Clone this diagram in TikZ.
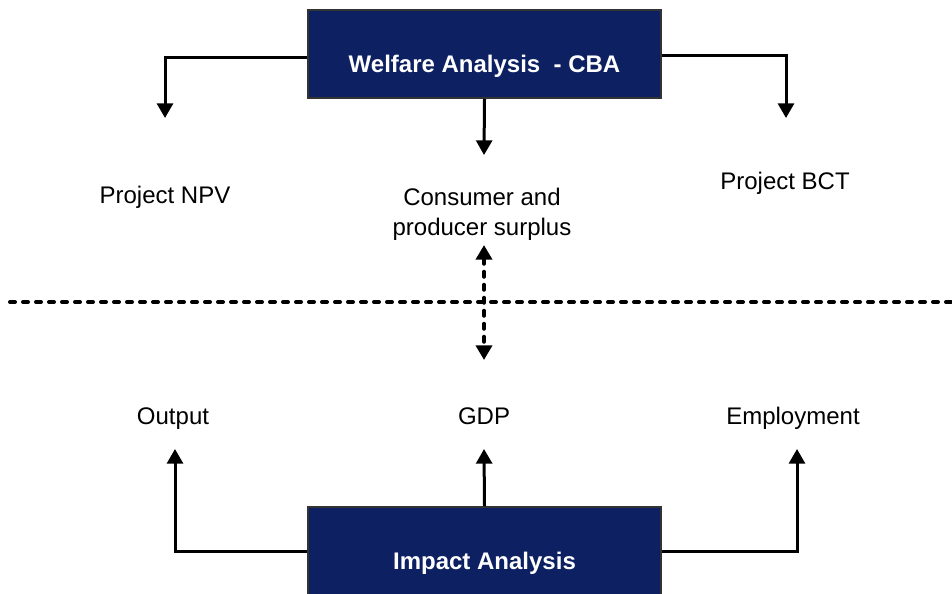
\documentclass[tikz,border=0pt]{standalone}
\usepackage{fontspec}
\setmainfont{Liberation Sans}
\usetikzlibrary{arrows.meta,positioning}
\definecolor{boxblue}{RGB}{13,32,98}

\tikzset{
  sharp/.tip={Triangle[width=12pt,length=11pt]},
  anabox/.style={rectangle,draw=black!80,line width=1.5pt,fill=boxblue,minimum width=264.75pt,inner sep=0pt},
  boxtext/.style={text=white,font=\fontsize{18}{22.5}\selectfont\bfseries,inner sep=0pt},
  plain/.style={inner sep=0pt,align=center},
  link/.style={line width=2.25pt,-sharp},
  sep/.style={line width=3pt,dash pattern=on 3.75pt off 6pt,line cap=round}
}

\begin{document}
\begin{tikzpicture}[x=0.75pt,y=-0.75pt,font=\fontsize{18}{22.5}\selectfont]

\useasboundingbox (0,0) rectangle (952,593);
\clip (0,0) rectangle (952,593);

% analysis boxes
\node[anabox,minimum height=66pt] (welfare) at (484.5,54) {};
\node[boxtext] (welfaretext) at (484.5,66.5) {Welfare Analysis~~- CBA};
\node[anabox,minimum height=82.5pt] (impact) at (484.5,562) {};
\node[boxtext] (impacttext) at (484.5,563) {Impact Analysis};

% welfare measures
\node[plain,anchor=base] (npv) at (165,203) {Project NPV};
\node[plain] (surplus) at (482,214) {Consumer and\\producer surplus};
\node[plain,anchor=base] (bct) at (785,189) {Project BCT};

% impact measures
\node[plain,anchor=base] (output) at (173,424) {Output};
\node[plain,anchor=base] (gdp) at (484,424) {GDP};
\node[plain,anchor=base] (employment) at (793,424) {Employment};

% arrow ends
\coordinate (npvtip) at (165,118);
\coordinate (surtip) at (484,155);
\coordinate (bcttip) at (786,118);
\coordinate (outtip) at (175,449);
\coordinate (gdptip) at (484,449);
\coordinate (emptip) at (797,449);
\coordinate (septop) at (484,245);
\coordinate (sepbot) at (484,360);
\coordinate (sepleft) at (10,302);
\coordinate (sepright) at (955,302);

% welfare side
\draw[link] ([yshift=-2.25pt]welfare.west) -| (npvtip);
\draw[link] (welfare.south) -- (surtip);
\draw[link] ([yshift=-1pt]welfare.east) -| (bcttip);

% divider
\draw[sep] (sepleft) -- (sepright);
\draw[sep,sharp-sharp] (septop) -- (sepbot);

% impact side
\draw[link] ([yshift=8.25pt]impact.west) -| (outtip);
\draw[link] (impact.north) -- (gdptip);
\draw[link] ([yshift=8.25pt]impact.east) -| (emptip);

\end{tikzpicture}
\end{document}
